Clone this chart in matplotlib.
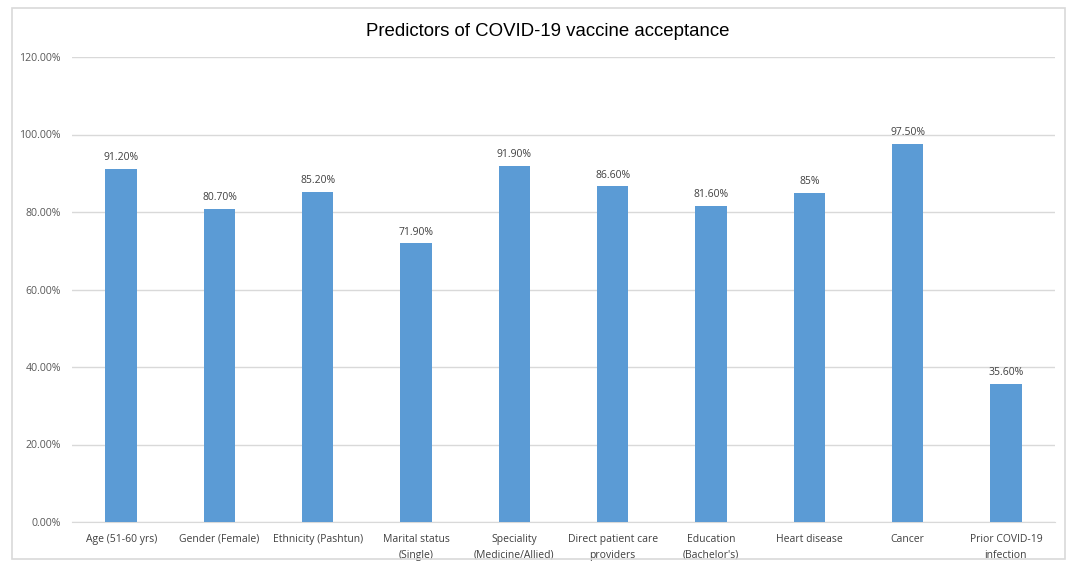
import matplotlib
matplotlib.use("Agg")
import matplotlib.pyplot as plt
from matplotlib.patches import Rectangle
from matplotlib.ticker import FuncFormatter

categories = [
    "Age (51-60 yrs)", "Gender (Female)", "Ethnicity (Pashtun)",
    "Marital status\n(Single)", "Speciality\n(Medicine/Allied)",
    "Direct patient care\nproviders", "Education\n(Bachelor's)",
    "Heart disease", "Cancer", "Prior COVID-19\ninfection",
]
values = [91.2, 80.7, 85.2, 71.9, 91.9, 86.6, 81.6, 85.0, 97.5, 35.6]
value_labels = ["91.20%", "80.70%", "85.20%", "71.90%", "91.90%",
                "86.60%", "81.60%", "85%", "97.50%", "35.60%"]
y_ticks = [0, 20, 40, 60, 80, 100, 120]

plt.rcParams["font.family"] = ["Open Sans", "DejaVu Sans"]

fig = plt.figure(figsize=(10.69, 5.61), dpi=100)
fig.patches.append(Rectangle((12 / 1069, 2 / 561), 1053 / 1069, 551 / 561,
                             transform=fig.transFigure, fill=False,
                             edgecolor="#d9d9d9", linewidth=1.2))

ax = fig.add_axes([72 / 1069, 1 - 522 / 561, 983 / 1069, 465 / 561])
x = range(len(categories))
ax.bar(x, values, width=0.32, color="#5b9bd5", zorder=3)
for xi, v, lab in zip(x, values, value_labels):
    ax.text(xi, v + 1.5, lab, ha="center", va="bottom", fontsize=7.5,
            color="#404040")

ax.set_xlim(-0.5, len(categories) - 0.5)
ax.set_ylim(0, 120)
ax.set_yticks(y_ticks)
ax.yaxis.set_major_formatter(FuncFormatter(lambda v, p: f"{v:.2f}%"))
ax.set_xticks(list(x))
ax.set_xticklabels(categories, fontsize=7.5, color="#404040", linespacing=1.6)
ax.tick_params(axis="y", labelsize=7.6, labelcolor="#595959", length=0, pad=8)
ax.tick_params(axis="x", length=0, pad=8.5)
ax.grid(axis="y", color="#d9d9d9", linewidth=1, zorder=0)
for side in ["top", "right", "left"]:
    ax.spines[side].set_visible(False)
ax.spines["bottom"].set_color("#d9d9d9")

fig.text(548 / 1069, 1 - 31 / 561, "Predictors of COVID-19 vaccine acceptance",
         ha="center", va="center", fontsize=13.4, family="Liberation Sans",
         color="#000000")

fig.savefig("out.png", dpi=100, facecolor="white")
